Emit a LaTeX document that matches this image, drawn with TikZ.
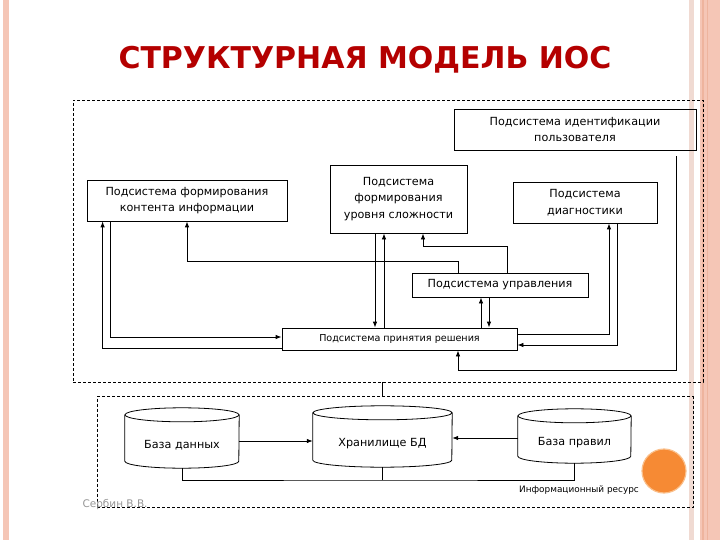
\documentclass[tikz,border=0pt]{standalone}
\usepackage{fontspec}
\setmainfont{DejaVu Sans}
\usetikzlibrary{arrows.meta,positioning}
\definecolor{titlered}{RGB}{180,0,0}
\definecolor{stripe}{RGB}{245,198,182}
\definecolor{stripelight}{RGB}{240,218,210}
\definecolor{stripedark}{RGB}{238,180,158}
\definecolor{dotorange}{RGB}{246,138,52}
\definecolor{dotrim}{RGB}{250,192,140}
\definecolor{authorgray}{RGB}{150,150,150}

\begin{document}
\begin{tikzpicture}[x=1pt,y=-1pt]

\tikzset{
  subsys/.style={draw, line width=0.8pt, inner sep=0pt, align=center,
    font=\fontsize{11.2}{16.5}\selectfont},
  dbase/.style={inner sep=0pt, font=\fontsize{11.2}{13}\selectfont},
  frame/.style={draw, dashed, dash pattern=on 3pt off 2pt, line width=0.7pt, inner sep=0pt},
  flow/.style={line width=0.8pt, -{Latex[length=6pt,width=4.5pt]}},
  wire/.style={line width=0.8pt}
}

\useasboundingbox (0,0) rectangle (720,540);

% slide border
\fill[stripe] (3,0) rectangle (9,540);
\fill[stripelight] (689,0) rectangle (694,540);
\fill[stripe] (700,0) rectangle (720,540);
\fill[stripedark] (702,0) rectangle (704,540);
\fill[stripedark] (706.5,0) rectangle (707.5,540);

\node[font=\fontsize{30}{33}\selectfont\bfseries, text=titlered] (title) at (365,60) {СТРУКТУРНАЯ МОДЕЛЬ ИОС};

% frames
\node[frame, minimum width=630, minimum height=282] (upper) at (388,241) {};
\node[frame, minimum width=596, minimum height=111] (lower) at (395,452) {};

% subsystems
\node[subsys, minimum width=242, minimum height=41] (ident) at (575,129.5) {Подсистема идентификации\\пользователя};
\node[subsys, minimum width=200, minimum height=41] (content) at (187,200.5) {Подсистема формирования\\контента информации};
\node[subsys, minimum width=137, minimum height=68] (level) at (398.5,199) {Подсистема\\формирования\\уровня сложности};
\node[subsys, minimum width=144, minimum height=41] (diag) at (585,202.5) {Подсистема\\диагностики};
\node[subsys, minimum width=176, minimum height=24] (control) at (500,285) {Подсистема управления};
\node[subsys, minimum width=235, minimum height=22, font=\fontsize{9.6}{11}\selectfont] (decision) at (399.5,339) {Подсистема принятия решения};

% databases
\node[dbase, minimum width=114, minimum height=46] (dbdata) at (182,445) {База данных};
\node[dbase, minimum width=139, minimum height=47] (dbstore) at (382.5,443.5) {Хранилище БД};
\node[dbase, minimum width=113, minimum height=40] (dbrules) at (574.5,443) {База правил};
\foreach \c/\r in {dbdata/57, dbstore/69.5, dbrules/56.5} {
  \draw[wire] ([yshift=7pt]\c.north) ellipse [x radius=\r pt, y radius=7pt];
  \draw[wire] ([yshift=7pt]\c.north west) -- ([yshift=7pt]\c.south west)
    arc [start angle=180, end angle=360, x radius=\r pt, y radius=7pt]
    -- ([yshift=7pt]\c.north east);
}

\node[font=\fontsize{8.9}{10}\selectfont] (resource) at (579,490) {Информационный ресурс};
\node[font=\fontsize{10.5}{12}\selectfont, text=authorgray, anchor=west] (author) at (79,505) {Сербин В.В.};
\node[circle, fill=dotorange, draw=dotrim, line width=1.2pt, minimum size=44, inner sep=0pt] (dot) at (664,471) {};

% upper connectors
\draw[flow] ([xshift=24pt]content.south west) |- ([yshift=2pt]decision.west);
\draw[flow] ([yshift=-9pt]decision.west) -| ([xshift=16pt]content.south west);
\draw[flow] ([xshift=-42pt]control.north) -- ++(0,-11) -| (content.south);
\draw[flow] ([xshift=7pt]control.north) -- ++(0,-26) -| ([xshift=24.5pt]level.south);
\draw[flow] ([xshift=-23.5pt]level.south) -- ([xshift=-23.5pt]level.south |- decision.north);
\draw[flow] ([xshift=-14.5pt]level.south |- decision.north) -- ([xshift=-14.5pt]level.south);
\draw[flow] ([xshift=-19pt]control.south |- decision.north) -- ([xshift=-19pt]control.south);
\draw[flow] ([xshift=-11pt]control.south) -- ([xshift=-11pt]control.south |- decision.north);
\draw[flow] ([yshift=5pt]decision.east) -| ([xshift=24pt]diag.south);
\draw[flow] ([xshift=32pt]diag.south) |- ([yshift=-6pt]decision.east);
\draw[flow] ([xshift=-20pt,yshift=-6pt]ident.south east) -- ++(0,214) -| ([xshift=58.5pt]decision.south);

% link between frames
\draw[wire] (upper.south -| dbstore) -- (lower.north -| dbstore);

% lower connectors
\coordinate (bus) at (382.5,480);
\draw[flow] ([yshift=4pt]dbdata.east) -- ([yshift=4pt]dbdata.east -| dbstore.west);
\draw[flow] ([yshift=5pt]dbrules.west) -- ([yshift=5pt]dbrules.west -| dbstore.east);
\draw[wire] (dbdata.south) |- (bus) -| (dbrules.south);
\draw[wire] (dbstore.south) -- (bus);

\end{tikzpicture}
\end{document}
